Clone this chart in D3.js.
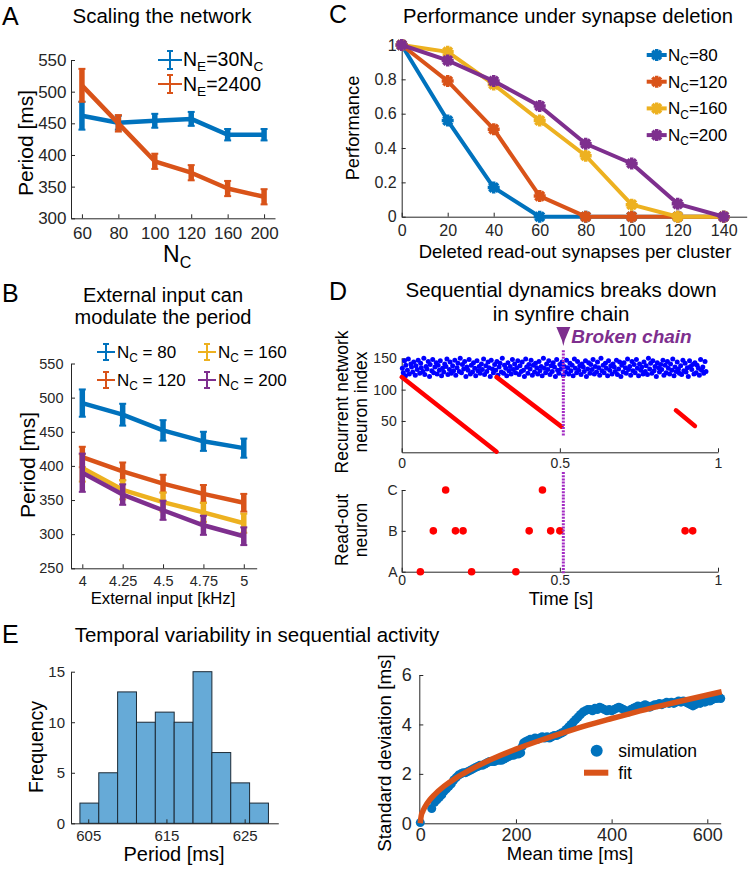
<!DOCTYPE html>
<html>
<head>
<meta charset="utf-8">
<script src="https://cdn.jsdelivr.net/npm/d3@7"></script>
<style>
  body { margin: 0; background: #fff; }
  svg { font-family: "Liberation Sans", Arial, sans-serif; }
</style>
</head>
<body>
<svg id="fig" width="750" height="870"></svg>
<script>
// ---- data ----
var colors = ["#0072BD", "#D95319", "#EDB120", "#7E2F8E"];

// A: scaling the network
var aNC = [60, 80, 100, 120, 160, 200];
var aScaled = [462, 451, 454, 457, 432, 432];
var aScaledErr = [22, 11, 11, 11, 9, 9];
var aFixed = [510, 450, 390, 372, 347, 334];
var aFixedErr = [26, 13, 12, 12, 12, 12];

// B: external input
var bInput = [4, 4.25, 4.5, 4.75, 5];
var bNames = ["80", "120", "160", "200"];
var bPeriod80 = [492, 475, 452, 436, 426];
var bPeriod120 = [413, 392, 374, 359, 346];
var bPeriod160 = [397, 365, 347, 332, 316];
var bPeriod200 = [390, 358, 335, 313, 297];
var bErr80 = [20, 16, 15, 14, 14];
var bErr120 = [15, 13, 13, 13, 13];
var bErr160 = [20, 14, 14, 14, 14];
var bErr200 = [28, 15, 14, 14, 13];

// C: synapse deletion
var cDeleted = [0, 20, 40, 60, 80, 100, 120, 140];
var cNames = ["80", "120", "160", "200"];
var cPerf80 = [1, 0.56, 0.17, 0, 0, 0, 0, 0];
var cPerf120 = [1, 0.79, 0.51, 0.12, 0, 0, 0, 0];
var cPerf160 = [1, 0.96, 0.77, 0.56, 0.355, 0.07, 0, 0];
var cPerf200 = [1, 0.91, 0.79, 0.645, 0.425, 0.31, 0.075, 0];

// D: raster, background spikes (time in ms, neuron index)
var dNoiseT = [2,5,9,12,13,18,21,24,29,31,35,38,43,45,49,52,57,60,62,67,70,73,77,80,84,88,90,95,98,101,105,109,112,115,119,122,126,129,133,136,140,143,146,151,153,157,161,164,168,171,175,178,182,185,189,192,196,199,203,206,210,213,217,220,224,227,231,234,238,241,245,248,252,255,259,262,266,269,273,276,280,283,287,290,294,297,301,304,308,311,315,318,322,325,329,332,336,339,343,346,350,353,357,360,364,367,371,374,378,381,385,388,392,395,399,402,406,409,413,416,420,423,427,430,434,437,441,444,448,451,455,458,462,465,469,472,476,479,483,486,490,493,497,500,504,507,511,514,518,521,525,528,532,535,539,542,546,549,553,556,560,563,567,570,574,577,581,584,588,591,595,598,602,605,609,612,616,619,623,626,630,633,637,640,644,647,651,654,658,661,665,668,672,675,679,682,686,689,693,696,700,703,707,710,714,717,721,724,728,731,735,738,742,745,749,752,756,759,763,766,770,773,777,780,784,787,791,794,798,801,805,808,812,815,819,822,826,829,833,836,840,843,847,850,854,857,861,864,868,871,875,878,882,885,889,892,896,899,903,906,910,913,917,920,924,927,931,934,938,941,945,948,952,955,959,962,966,969,973,976,980,983,987,990,994,997];
var dNoiseIdx = [134,127,146,122,139,131,149,125,141,136,128,144,123,138,132,147,126,142,135,129,150,124,137,133,145,121,140,130,148,127,136,143,125,139,131,146,122,134,128,141,137,149,124,132,144,126,138,130,147,123,135,142,129,150,127,140,133,145,121,136,131,148,125,139,128,143,134,122,146,130,137,126,141,132,149,124,138,129,144,135,121,147,133,127,140,131,145,123,136,142,128,150,126,139,134,122,143,130,137,125,148,132,141,127,135,146,124,138,129,144,131,121,149,136,126,140,133,147,123,139,128,142,135,125,145,130,137,122,150,134,127,141,132,146,124,138,129,143,136,121,148,131,126,140,133,144,123,137,128,147,135,125,142,130,139,122,149,134,127,145,131,138,124,141,136,129,146,121,133,143,126,140,132,148,125,137,128,144,135,123,150,130,139,127,142,134,122,146,131,138,125,141,136,129,147,124,133,144,121,139,128,143,135,126,149,132,137,123,145,130,140,127,148,134,122,141,131,136,125,144,129,138,124,150,133,142,126,146,130,137,121,143,135,128,140,132,147,123,139,127,145,134,125,141,131,149,122,136,129,144,133,126,138,124,147,130,142,128,135,121,146,137,132,140,125,143,127,139,134,123,148,131,136,126,145,129];
// D: chain segments (start / end in seconds, neuron index)
var dChainT0 = [0, 0.30, 0.867];
var dChainI0 = [120, 120, 67];
var dChainT1 = [0.30, 0.505, 0.927];
var dChainI1 = [1, 41, 42];
var dBreakT = 0.511;
// D: read-out spikes (0 = A, 1 = B, 2 = C)
var dReadT = [0.059, 0.221, 0.361, 0.10, 0.17, 0.194, 0.403, 0.471, 0.50, 0.896, 0.92, 0.139, 0.445];
var dReadN = [0, 0, 0, 1, 1, 1, 1, 1, 1, 1, 1, 2, 2];

// E left: histogram of periods
var eBinEdges = [603.94, 606.35, 608.76, 611.17, 613.58, 615.99, 618.4, 620.81, 623.22, 625.63, 628.04];
var eCounts = [2, 5, 13, 10, 11, 10, 15, 7, 4, 2];

// E right: std vs mean time
var eSimT = [0,24,30,35,40,45,50,55,60,65,70,75,80,85,90,95,100,105,110,115,120,125,130,135,140,145,150,155,160,165,170,175,180,185,190,195,200,205,210,213,216,220,225,230,235,240,245,250,255,260,265,270,275,280,285,290,295,300,305,310,315,320,325,330,335,340,345,350,355,360,365,370,375,380,385,390,395,400,405,410,415,420,425,430,435,440,445,450,455,460,465,470,475,480,485,490,495,500,505,510,515,520,525,530,535,540,545,550,555,560,565,570,575,580,585,590,595,600,605,610,615,620,625,628];
var eSimSD = [0.03,0.6,0.85,0.95,1.05,1.15,1.3,1.4,1.5,1.6,1.75,1.85,1.95,2.0,2.05,2.05,2.1,2.15,2.2,2.25,2.3,2.35,2.35,2.4,2.45,2.5,2.5,2.5,2.55,2.55,2.55,2.6,2.65,2.7,2.75,2.75,2.8,2.8,2.85,3.1,3.25,3.3,3.35,3.4,3.4,3.45,3.4,3.45,3.5,3.45,3.5,3.45,3.5,3.55,3.55,3.6,3.65,3.7,3.8,3.9,4.0,4.1,4.2,4.3,4.4,4.5,4.55,4.6,4.6,4.55,4.65,4.6,4.7,4.65,4.6,4.55,4.6,4.55,4.6,4.65,4.7,4.65,4.6,4.55,4.5,4.6,4.65,4.7,4.75,4.7,4.75,4.8,4.75,4.7,4.75,4.8,4.8,4.85,4.8,4.85,4.9,4.85,4.9,4.85,4.9,4.95,4.9,4.95,4.9,4.85,4.8,4.75,4.8,4.9,4.85,4.95,4.9,5.0,4.95,5.0,5.05,5.05,5.1,5.05];
var eFitT = [0, 2, 5, 10, 20, 30, 50, 75, 100, 150, 200, 250, 300, 350, 400, 450, 500, 550, 600, 630];
var eFitSD = [0, 0.3, 0.47, 0.67, 0.95, 1.16, 1.5, 1.84, 2.12, 2.6, 3.0, 3.35, 3.67, 3.97, 4.24, 4.5, 4.74, 4.97, 5.19, 5.32];

// ---- helpers ----
var svg = d3.select("#fig");
var ink = "#262626";

function drawAxis(gen, tx, ty, fs) {
  var g = svg.append("g").attr("transform", "translate(" + tx + "," + ty + ")").call(gen);
  g.attr("font-family", null).attr("font-size", fs);
  g.selectAll(".tick text").attr("fill", ink);
  g.selectAll(".tick line").attr("stroke", ink);
  g.select(".domain").attr("stroke", ink);
  return g;
}

function label(x, y, txt, fs, opts) {
  opts = opts || {};
  var t = svg.append("text").attr("font-size", fs).attr("fill", opts.fill || "#000")
    .attr("text-anchor", opts.anchor || "middle");
  if (opts.rotate) {
    t.attr("transform", "translate(" + x + "," + y + ") rotate(-90)").attr("dy", "0.35em");
  } else {
    t.attr("x", x).attr("y", y);
  }
  if (opts.weight) t.attr("font-weight", opts.weight);
  if (opts.style) t.attr("font-style", opts.style);
  t.text(txt);
  return t;
}

// text with subscripts: parts = [[string, isSub], ...]
function subLabel(x, y, parts, fs, anchor) {
  var t = svg.append("text").attr("x", x).attr("y", y).attr("font-size", fs)
    .attr("fill", "#000").attr("text-anchor", anchor || "start");
  var down = false, shift = fs * 0.25;
  parts.forEach(function (p) {
    var s = t.append("tspan").text(p[0]);
    if (p[1]) {
      s.attr("font-size", fs * 0.7);
      if (!down) s.attr("dy", shift);
      down = true;
    } else if (down) {
      s.attr("dy", -shift);
      down = false;
    }
  });
  return t;
}

function errSeries(xs, ys, errs, x, y, color, lw) {
  var g = svg.append("g");
  g.append("path").datum(d3.zip(xs, ys))
    .attr("d", d3.line().x(function (d) { return x(d[0]); }).y(function (d) { return y(d[1]); }))
    .attr("fill", "none").attr("stroke", color).attr("stroke-width", lw).attr("stroke-linejoin", "round");
  var pts = d3.zip(xs, ys, errs);
  g.selectAll(null).data(pts).join("line")
    .attr("x1", function (d) { return x(d[0]); }).attr("x2", function (d) { return x(d[0]); })
    .attr("y1", function (d) { return y(d[1] - d[2]); }).attr("y2", function (d) { return y(d[1] + d[2]); })
    .attr("stroke", color).attr("stroke-width", 5.5);
  [-1, 1].forEach(function (s) {
    g.selectAll(null).data(pts).join("line")
      .attr("x1", function (d) { return x(d[0]) - 3.5; }).attr("x2", function (d) { return x(d[0]) + 3.5; })
      .attr("y1", function (d) { return y(d[1] + s * d[2]); }).attr("y2", function (d) { return y(d[1] + s * d[2]); })
      .attr("stroke", color).attr("stroke-width", 2);
  });
}

function errGlyph(cx, cy, halfW, halfH, color) {
  var g = svg.append("g").attr("stroke", color).attr("stroke-width", 2);
  g.append("line").attr("x1", cx - halfW).attr("x2", cx + halfW).attr("y1", cy).attr("y2", cy);
  g.append("line").attr("x1", cx).attr("x2", cx).attr("y1", cy - halfH).attr("y2", cy + halfH);
  g.append("line").attr("x1", cx - 3).attr("x2", cx + 3).attr("y1", cy - halfH).attr("y2", cy - halfH);
  g.append("line").attr("x1", cx - 3).attr("x2", cx + 3).attr("y1", cy + halfH).attr("y2", cy + halfH);
}

function starPath(cx, cy, r) {
  var q = r * 0.72;
  return "M" + (cx - r) + "," + cy + "H" + (cx + r) + "M" + cx + "," + (cy - r) + "V" + (cy + r) +
    "M" + (cx - q) + "," + (cy - q) + "L" + (cx + q) + "," + (cy + q) +
    "M" + (cx - q) + "," + (cy + q) + "L" + (cx + q) + "," + (cy - q);
}

// ---- panel letters ----
label(2, 25, "A", 25, { anchor: "start" });
label(2, 302, "B", 25, { anchor: "start" });
label(329, 23, "C", 25, { anchor: "start" });
label(329, 300, "D", 25, { anchor: "start" });
label(2, 643, "E", 25, { anchor: "start" });

// ---- A ----
var xA = d3.scaleLinear().domain([0.7, 6.3]).range([71, 275]);
var yA = d3.scaleLinear().domain([300, 550]).range([218.3, 60]);
drawAxis(d3.axisBottom(xA).tickValues([1, 2, 3, 4, 5, 6]).tickFormat(function (d, i) { return aNC[i]; })
  .tickSizeInner(-4).tickSizeOuter(0).tickPadding(8.6), 0, 218.3, 17);
drawAxis(d3.axisLeft(yA).tickValues([300, 350, 400, 450, 500, 550])
  .tickSizeInner(-4).tickSizeOuter(0).tickPadding(4.5), 71, 0, 17);
var aIdx = aNC.map(function (d, i) { return i + 1; });
errSeries(aIdx, aScaled, aScaledErr, xA, yA, colors[0], 4.5);
errSeries(aIdx, aFixed, aFixedErr, xA, yA, colors[1], 4.5);
label(162, 23, "Scaling the network", 20.5);
label(26, 143, "Period [ms]", 21, { rotate: true });
subLabel(163, 262, [["N", 0], ["C", 1]], 23);
errGlyph(170, 60, 12, 9, colors[0]);
errGlyph(170, 84, 12, 9, colors[1]);
subLabel(183, 66, [["N", 0], ["E", 1], ["=30N", 0], ["C", 1]], 19.5);
subLabel(183, 91, [["N", 0], ["E", 1], ["=2400", 0]], 19.5);

// ---- B ----
var xB = d3.scaleLinear().domain([3.93, 5.08]).range([71, 256.7]);
var yB = d3.scaleLinear().domain([250, 550]).range([568.3, 363.5]);
drawAxis(d3.axisBottom(xB).tickValues(bInput).tickFormat(d3.format("~g"))
  .tickSizeInner(-4).tickSizeOuter(0).tickPadding(7.4), 0, 568.3, 14.5);
drawAxis(d3.axisLeft(yB).tickValues([250, 300, 350, 400, 450, 500, 550])
  .tickSizeInner(-4).tickSizeOuter(0).tickPadding(7.5), 71, 0, 14.5);
var bSeries = [[bPeriod80, bErr80], [bPeriod120, bErr120], [bPeriod160, bErr160], [bPeriod200, bErr200]];
bSeries.forEach(function (s, i) { errSeries(bInput, s[0], s[1], xB, yB, colors[i], 4.5); });
label(163, 302, "External input can", 20);
label(163, 324, "modulate the period", 20);
label(28, 465, "Period [ms]", 21, { rotate: true });
label(163, 604, "External input [kHz]", 16.7);
// legend order: 80, 120 in first column; 160, 200 in second
var bLegPos = [[106, 352], [106, 380], [207, 352], [207, 380]];
bNames.forEach(function (n, i) {
  errGlyph(bLegPos[i][0], bLegPos[i][1], 9, 8, colors[i]);
  subLabel(bLegPos[i][0] + 11, bLegPos[i][1] + 6, [["N", 0], ["C", 1], [" = " + n, 0]], 17);
});

// ---- C ----
var xC = d3.scaleLinear().domain([0, 150]).range([401.7, 746.7]);
var yC = d3.scaleLinear().domain([0, 1]).range([216.7, 45]);
drawAxis(d3.axisBottom(xC).tickValues(cDeleted).tickSizeInner(-4).tickSizeOuter(0).tickPadding(8.4), 0, 216.7, 16);
drawAxis(d3.axisLeft(yC).tickValues([0, 0.2, 0.4, 0.6, 0.8, 1]).tickFormat(d3.format("~g"))
  .tickSizeInner(-4).tickSizeOuter(0).tickPadding(5), 401.7, 0, 16);
var cSeries = [cPerf80, cPerf120, cPerf160, cPerf200];
cSeries.forEach(function (s, i) {
  var g = svg.append("g");
  g.append("path").datum(d3.zip(cDeleted, s))
    .attr("d", d3.line().x(function (d) { return xC(d[0]); }).y(function (d) { return yC(d[1]); }))
    .attr("fill", "none").attr("stroke", colors[i]).attr("stroke-width", 4).attr("stroke-linejoin", "round");
  g.selectAll(null).data(d3.zip(cDeleted, s)).join("path")
    .attr("d", function (d) { return starPath(xC(d[0]), yC(d[1]), 6); })
    .attr("stroke", colors[i]).attr("stroke-width", 3.5).attr("fill", "none");
});
label(568, 23, "Performance under synapse deletion", 20.2);
label(353, 128, "Performance", 18.3, { rotate: true });
label(575, 258, "Deleted read-out synapses per cluster", 18.5);
cNames.forEach(function (n, i) {
  var cy = 55 + i * 26.7;
  svg.append("line").attr("x1", 646.7).attr("x2", 666.7).attr("y1", cy).attr("y2", cy)
    .attr("stroke", colors[i]).attr("stroke-width", 4);
  svg.append("path").attr("d", starPath(656.7, cy, 6)).attr("stroke", colors[i]).attr("stroke-width", 3.5);
  subLabel(668, cy + 6, [["N", 0], ["C", 1], ["=" + n, 0]], 17);
});

// ---- D ----
var xD = d3.scaleLinear().domain([0, 1]).range([401.7, 718]);
var yD = d3.scaleLinear().domain([0, 150]).range([452.3, 358.3]);
var yR = d3.scaleLinear().domain([0, 2]).range([571.7, 490]);
drawAxis(d3.axisBottom(xD).tickValues([0, 0.5, 1]).tickFormat(d3.format("~g"))
  .tickSizeInner(-4).tickSizeOuter(0).tickPadding(5.8), 0, 452.3, 14);
drawAxis(d3.axisLeft(yD).tickValues([50, 100, 150]).tickSizeInner(-4).tickSizeOuter(0).tickPadding(5), 401.7, 0, 14);
drawAxis(d3.axisBottom(xD).tickValues([0, 0.5, 1]).tickFormat(d3.format("~g"))
  .tickSizeInner(-4).tickSizeOuter(0).tickPadding(3.4), 0, 571.7, 14);
drawAxis(d3.axisLeft(yR).tickValues([0, 1, 2]).tickFormat(function (d) { return "ABC"[d]; })
  .tickSizeInner(-4).tickSizeOuter(0).tickPadding(4), 401.7, 0, 14);

svg.append("g").selectAll("circle").data(d3.zip(dNoiseT, dNoiseIdx)).join("circle")
  .attr("cx", function (d) { return xD(d[0] / 1000); }).attr("cy", function (d) { return yD(d[1]); })
  .attr("r", 2.5).attr("fill", "#0000ff");
svg.append("g").selectAll("line").data(d3.zip(dChainT0, dChainI0, dChainT1, dChainI1)).join("line")
  .attr("x1", function (d) { return xD(d[0]); }).attr("y1", function (d) { return yD(d[1]); })
  .attr("x2", function (d) { return xD(d[2]); }).attr("y2", function (d) { return yD(d[3]); })
  .attr("stroke", "#ff0000").attr("stroke-width", 4.5).attr("stroke-linecap", "round");
svg.append("g").selectAll("circle").data(d3.zip(dReadT, dReadN)).join("circle")
  .attr("cx", function (d) { return xD(d[0]); }).attr("cy", function (d) { return yR(d[1]); })
  .attr("r", 3.8).attr("fill", "#ff0000");

var bx = xD(dBreakT);
[[yD(150) - 8, yD(25)], [yR(2) - 18, yR(0) + 2]].forEach(function (seg) {
  svg.append("line").attr("x1", bx).attr("x2", bx).attr("y1", seg[0]).attr("y2", seg[1])
    .attr("stroke", "#a32cc4").attr("stroke-width", 3).attr("stroke-dasharray", "2,1.2");
});
svg.append("path").attr("d", "M" + (bx - 7) + ",327L" + (bx + 7) + ",327L" + (bx + 1.5) + ",340L" + bx + ",346L" + (bx - 1.5) + ",340Z").attr("fill", colors[3]);
label(bx + 8, 343, "Broken chain", 19, { anchor: "start", fill: colors[3], weight: "bold", style: "italic" });

label(561, 297, "Sequential dynamics breaks down", 20.5);
label(561, 321, "in synfire chain", 20.5);
label(341.5, 402, "Recurrent network", 17.5, { rotate: true });
label(361, 402, "neuron index", 17.5, { rotate: true });
label(341.5, 530, "Read-out", 17.5, { rotate: true });
label(361, 530, "neuron", 17.5, { rotate: true });
label(561, 605, "Time [s]", 18.3);

// ---- E left ----
var xH = d3.scaleLinear().domain([602.8, 629.3]).range([71, 278.3]);
var yH = d3.scaleLinear().domain([0, 15]).range([823.3, 671.7]);
var bins = eCounts.map(function (c, i) { return { x0: eBinEdges[i], x1: eBinEdges[i + 1], n: c }; });
svg.append("g").selectAll("rect").data(bins).join("rect")
  .attr("x", function (d) { return xH(d.x0); }).attr("width", function (d) { return xH(d.x1) - xH(d.x0); })
  .attr("y", function (d) { return yH(d.n); }).attr("height", function (d) { return yH(0) - yH(d.n); })
  .attr("fill", "#66aad7").attr("stroke", "#1c2a36").attr("stroke-width", 1);
drawAxis(d3.axisBottom(xH).tickValues([605, 615, 625]).tickSizeInner(-4).tickSizeOuter(0).tickPadding(7), 0, 823.3, 15);
drawAxis(d3.axisLeft(yH).tickValues([0, 5, 10, 15]).tickSizeInner(-4).tickSizeOuter(0).tickPadding(6), 71, 0, 15);
label(257, 642, "Temporal variability in sequential activity", 20.5);
label(36, 747, "Frequency", 19.5, { rotate: true });
label(174, 861, "Period [ms]", 20);

// ---- E right ----
var xS = d3.scaleLinear().domain([-2, 628]).range([419.3, 720.7]);
var yS = d3.scaleLinear().domain([0, 6]).range([823.3, 675]);
drawAxis(d3.axisBottom(xS).tickValues([0, 200, 400, 600]).tickSizeInner(-4).tickSizeOuter(0).tickPadding(4.5), 0, 823.3, 18);
drawAxis(d3.axisLeft(yS).tickValues([0, 2, 4, 6]).tickFormat(d3.format("~g"))
  .tickSizeInner(-4).tickSizeOuter(0).tickPadding(7.5), 419.3, 0, 18);
svg.append("g").selectAll("circle").data(d3.zip(eSimT, eSimSD)).join("circle")
  .attr("cx", function (d) { return xS(d[0]); }).attr("cy", function (d) { return yS(d[1]); })
  .attr("r", 4.5).attr("fill", colors[0]);
svg.append("path").datum(d3.zip(eFitT, eFitSD))
  .attr("d", d3.line().curve(d3.curveMonotoneX).x(function (d) { return xS(d[0]); }).y(function (d) { return yS(d[1]); }))
  .attr("fill", "none").attr("stroke", colors[1]).attr("stroke-width", 5.5);
svg.append("circle").attr("cx", 596.7).attr("cy", 750.7).attr("r", 6).attr("fill", colors[0]);
svg.append("line").attr("x1", 584).attr("x2", 608.3).attr("y1", 772.7).attr("y2", 772.7)
  .attr("stroke", colors[1]).attr("stroke-width", 6);
label(618.3, 756.5, "simulation", 17.5, { anchor: "start" });
label(618.3, 779, "fit", 17.5, { anchor: "start" });
label(384, 753, "Standard deviation [ms]", 18.8, { rotate: true });
label(570, 860, "Mean time [ms]", 18.5);
</script>
</body>
</html>
